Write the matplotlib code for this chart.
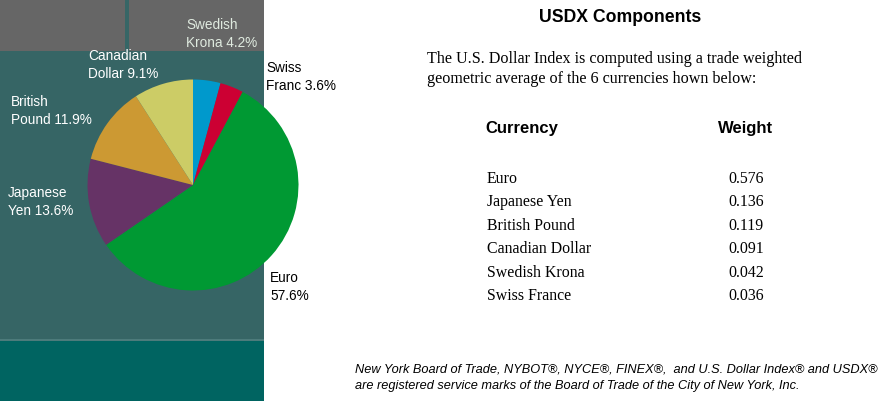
import matplotlib
matplotlib.use("Agg")
import matplotlib.pyplot as plt
from matplotlib.patches import Rectangle

# --- data ---
pie_names = ["Swedish Krona", "Swiss Franc", "Euro", "Japanese Yen", "British Pound", "Canadian Dollar"]
pie_shares = [4.2, 3.6, 57.6, 13.6, 11.9, 9.1]
pie_colors = ["#0099cc", "#cc0033", "#009933", "#663366", "#cc9933", "#cccc66"]

table_names = ["Euro", "Japanese Yen", "British Pound", "Canadian Dollar", "Swedish Krona", "Swiss France"]
table_weights = [0.576, 0.136, 0.119, 0.091, 0.042, 0.036]

title = "USDX Components"
intro = ("The U.S. Dollar Index is computed using a trade weighted\n"
         "geometric average of the 6 currencies hown below:")
footnote = ("New York Board of Trade, NYBOT\u00ae, NYCE\u00ae, FINEX\u00ae,  and U.S. Dollar Index\u00ae and USDX\u00ae\n"
            "are registered service marks of the Board of Trade of the City of New York, Inc.")

# --- label placement (pixels, left / vertical centre of the 2-line block) ---
label_pos = {
    "Swedish Krona": (186, 34, "#dfeadf"),
    "Swiss Franc": (266, 77, "black"),
    "Euro": (270, 287, "black"),
    "Japanese Yen": (8, 202, "white"),
    "British Pound": (11, 111, "white"),
    "Canadian Dollar": (88, 65, "white"),
}

W, H = 886, 401
fig = plt.figure(figsize=(W / 100, H / 100), dpi=100)
fig.patch.set_facecolor("white")

# background axes in pixel coordinates
bg = fig.add_axes([0, 0, 1, 1])
bg.set_xlim(0, W)
bg.set_ylim(H, 0)
bg.axis("off")

bg.add_patch(Rectangle((0, 0), 264, 51, color="#666666", lw=0))
bg.add_patch(Rectangle((125, 0), 4, 51, color="#366666", lw=0))
bg.add_patch(Rectangle((0, 51), 264, 288, color="#366565", lw=0))
bg.add_patch(Rectangle((0, 339), 264, 2, color="#4d7b7b", lw=0))
bg.add_patch(Rectangle((0, 341), 264, 60, color="#006461", lw=0))

# pie
cx, cy, r = 193, 185, 105.5
pie_ax = fig.add_axes([(cx - r) / W, 1 - (cy + r) / H, 2 * r / W, 2 * r / H])
pie_ax.pie(pie_shares, colors=pie_colors, startangle=90, counterclock=False,
           wedgeprops=dict(linewidth=0))
pie_ax.set_xlim(-1, 1)
pie_ax.set_ylim(-1, 1)
pie_ax.set_aspect("auto")
pie_ax.axis("off")

lab_font = dict(family="Liberation Sans", fontsize=9.8)
for name, share in zip(pie_names, pie_shares):
    x, y, col = label_pos[name]
    parts = name.split(" ")
    if len(parts) > 1:
        txt = f"{parts[0]}\n{parts[1]} {share}%"
    else:
        txt = f"{name}\n{share}%"
    bg.text(x, y, txt, color=col, ha="left", va="center", linespacing=1.3, **lab_font)

# right side text
bg.text(620, 17, title, ha="center", va="center", fontsize=12.7,
        fontweight="bold", family="Liberation Sans")
bg.text(427, 69, intro, ha="left", va="center", fontsize=11.6,
        family="Liberation Serif", linespacing=1.4)
bg.text(522, 129, "Currency", ha="center", va="center", fontsize=12,
        fontweight="bold", family="Liberation Sans")
bg.text(746, 129, "Weight", ha="center", va="center", fontsize=12,
        fontweight="bold", family="Liberation Sans")

row_y0, row_dy = 179, 23.4
for i, (n, w) in enumerate(zip(table_names, table_weights)):
    y = row_y0 + i * row_dy
    bg.text(487, y, n, ha="left", va="center", fontsize=11.4, family="Liberation Serif")
    bg.text(764, y, f"{w:.3f}", ha="right", va="center", fontsize=11.4, family="Liberation Serif")

bg.text(355, 378, footnote, ha="left", va="center", fontsize=9.2,
        family="Liberation Sans", style="italic", linespacing=1.5)

fig.savefig("out.png", dpi=100, facecolor="white")
